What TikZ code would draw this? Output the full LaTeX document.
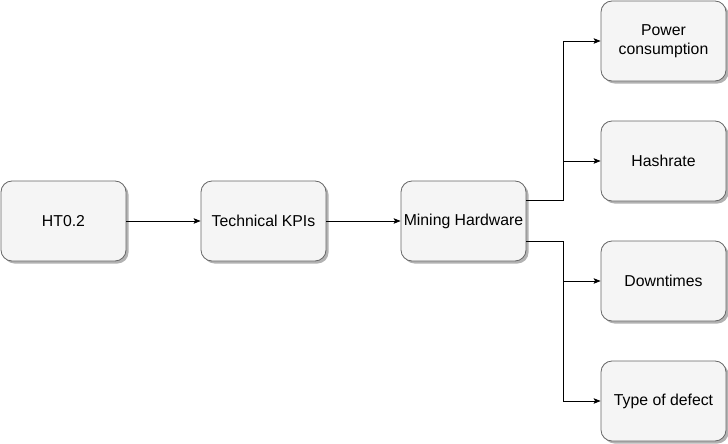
\documentclass[tikz,border=0pt]{standalone}
\usepackage{fontspec}
\setmainfont{Liberation Sans}
\usetikzlibrary{arrows.meta,shadows,calc}
\definecolor{boxfill}{HTML}{F5F5F5}
\definecolor{boxline}{HTML}{666666}
\begin{document}
\begin{tikzpicture}[x=1pt,y=-1pt,
  box/.style={draw=boxline, fill=boxfill, rounded corners=11pt, minimum width=125pt, minimum height=80pt,
    inner sep=0pt, align=center, font=\fontsize{15.8pt}{19pt}\selectfont, line width=0.8pt,
    drop shadow={shadow xshift=2.5pt, shadow yshift=-2.5pt, fill=black, opacity=0.3}},
  conn/.style={draw=black, line width=0.8pt, -{Stealth[length=7pt,width=5.5pt,inset=1.5pt]}}]
\useasboundingbox (0,0) rectangle (728,444);
\node[box] (ht) at (63.5,221) {HT0.2};
\node[box] (kpi) at (263.5,221) {Technical KPIs};
\node[box] (mh) at (463.5,221) {Mining Hardware};
\node[box] (pc) at (663.5,41) {Power\\consumption};
\node[box] (hr) at (663.5,161) {Hashrate};
\node[box] (dt) at (663.5,281) {Downtimes};
\node[box] (td) at (663.5,401) {Type of defect};
\coordinate (up) at ($(mh.north east)!0.25!(mh.south east)$);
\coordinate (dn) at ($(mh.north east)!0.75!(mh.south east)$);
\draw[conn] (ht) -- (kpi);
\draw[conn] (kpi) -- (mh);
\draw[conn] (up) -- ++(37,0) |- (pc.west);
\draw[conn] (up) -- ++(37,0) |- (hr.west);
\draw[conn] (dn) -- ++(37,0) |- (dt.west);
\draw[conn] (dn) -- ++(37,0) |- (td.west);
\end{tikzpicture}
\end{document}
